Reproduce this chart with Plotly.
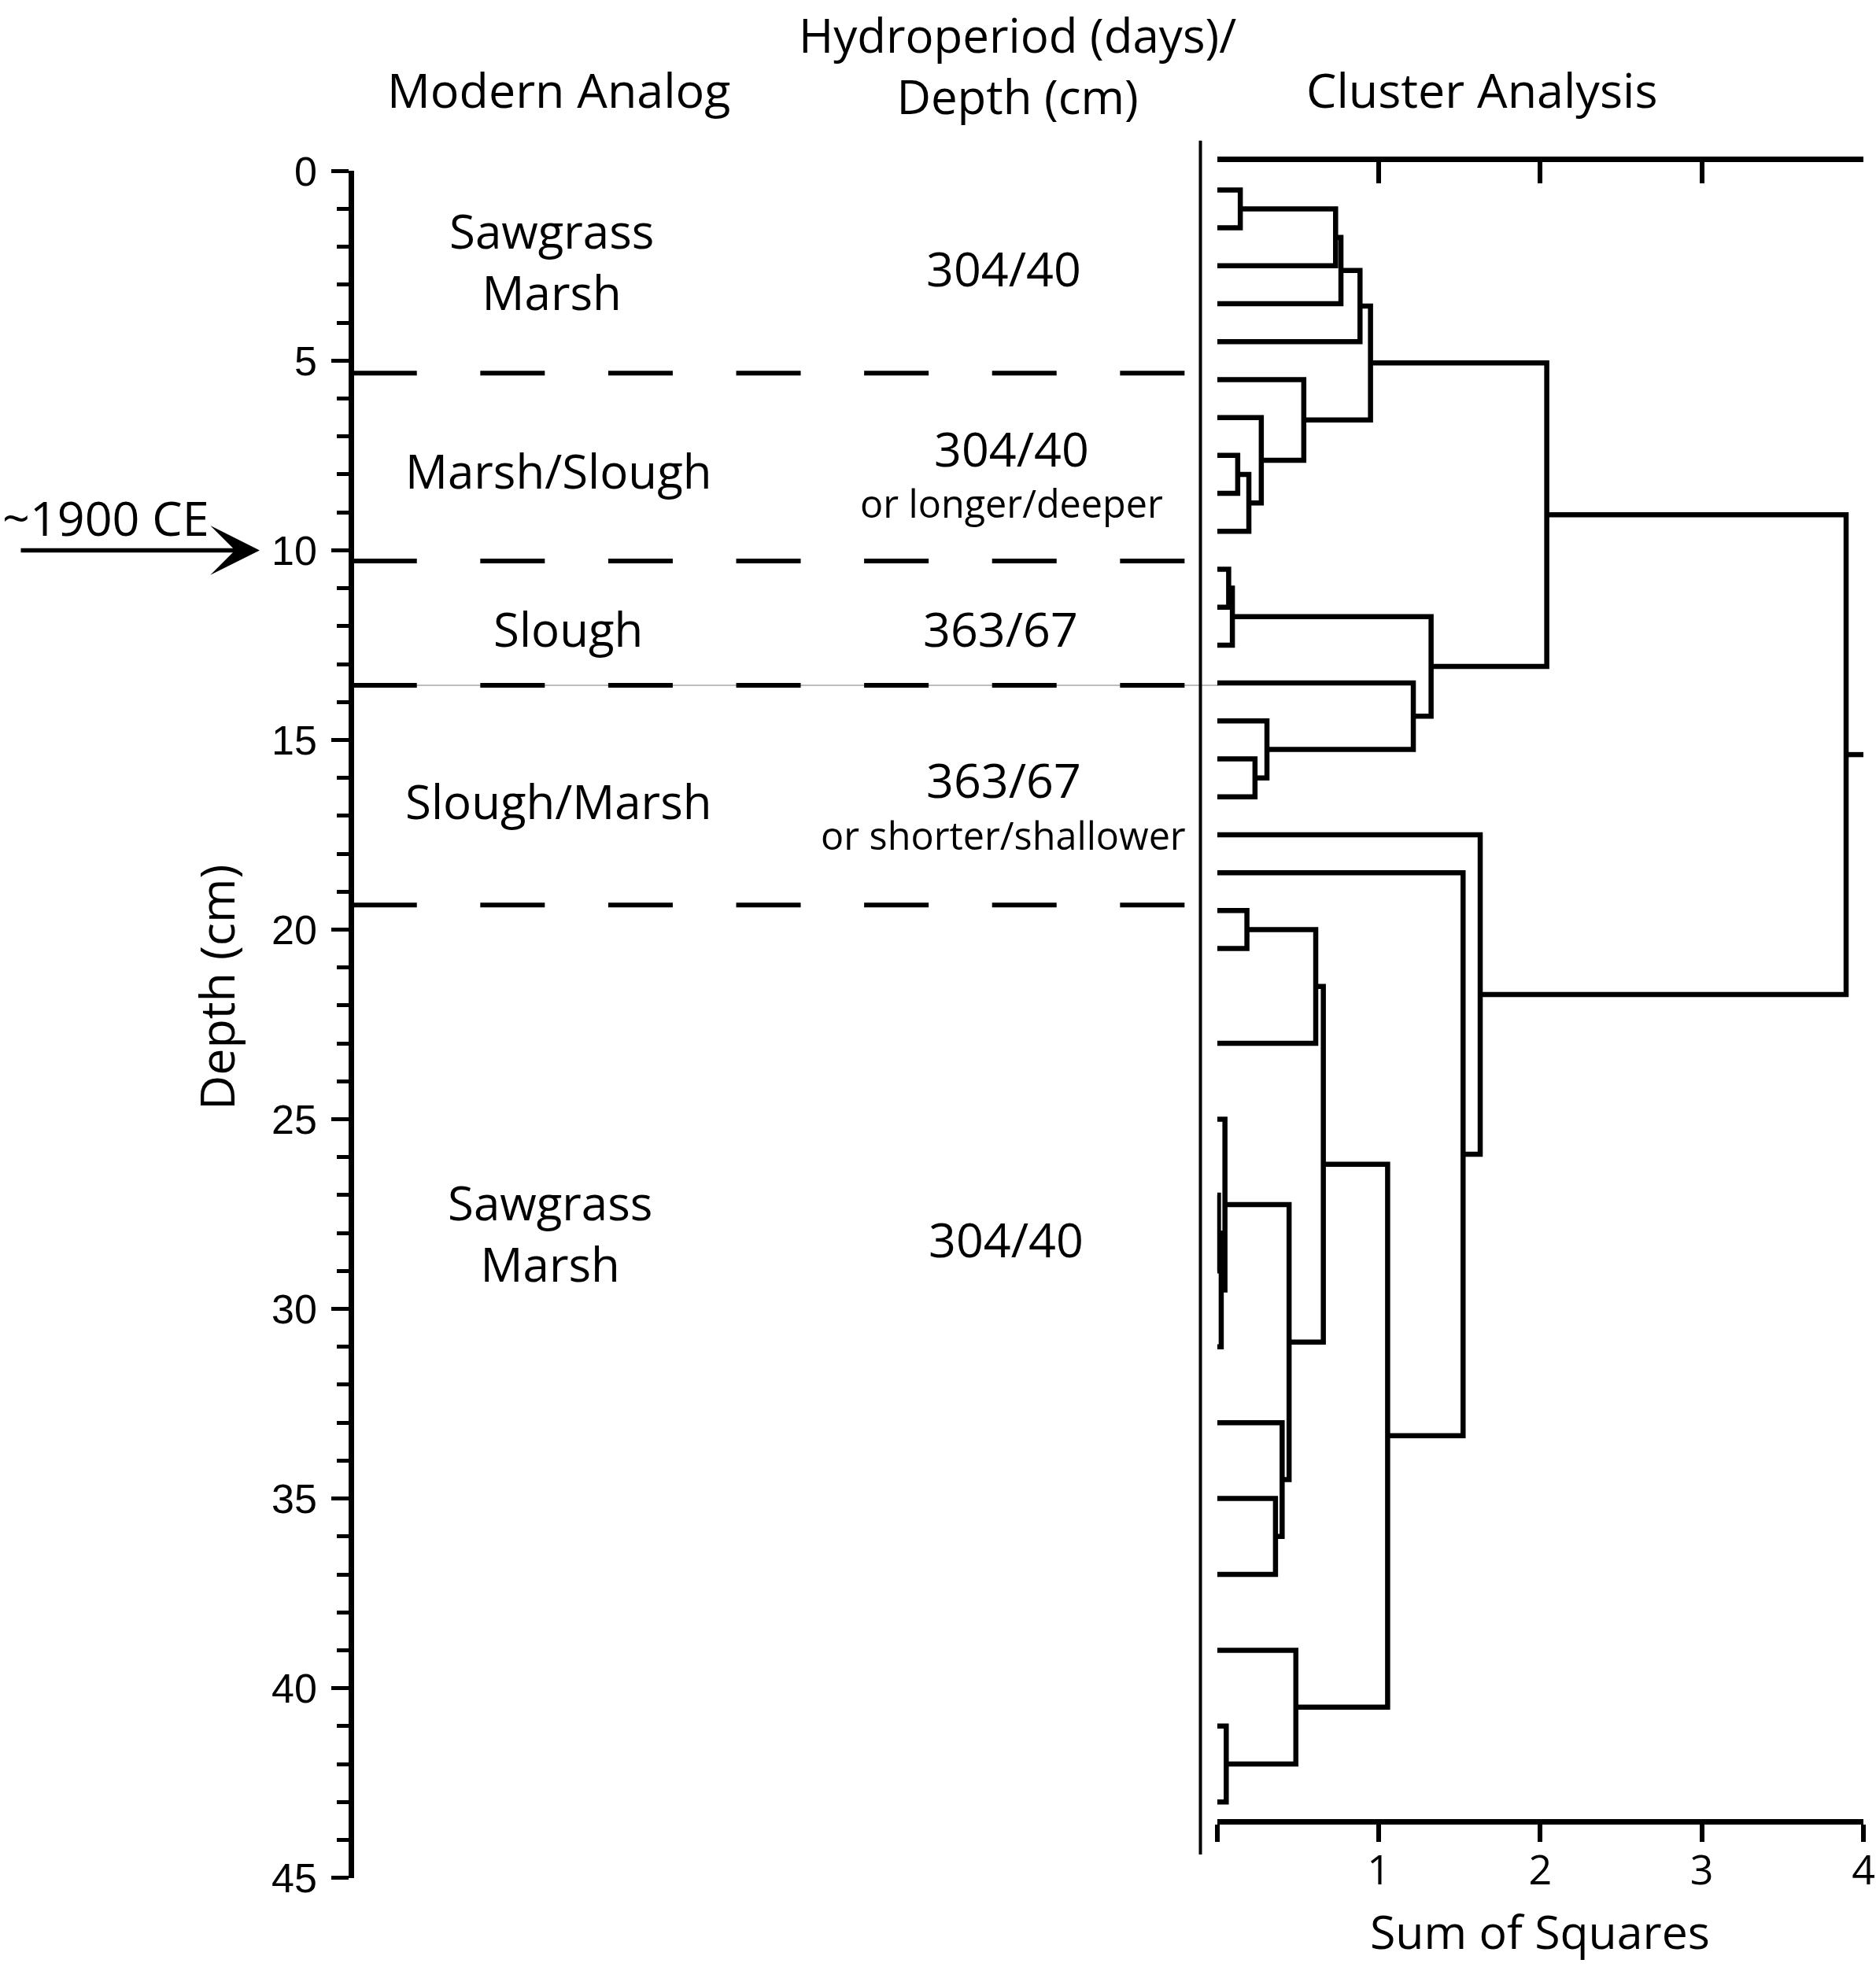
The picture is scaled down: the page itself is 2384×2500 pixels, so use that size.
import plotly.graph_objects as go

W, H = 2384, 2500

# ---------------- data ----------------
depth_ticks = [0, 5, 10, 15, 20, 25, 30, 35, 40, 45]
zone_boundaries = [5.33, 10.28, 13.56, 19.35]
gray_boundary = 13.56

analog_labels = ["Sawgrass<br>Marsh", "Marsh/Slough", "Slough", "Slough/Marsh", "Sawgrass<br>Marsh"]
analog_depths = [2.38, 7.9, 12.06, 16.6, 28.0]
analog_x = [0.236, 0.244, 0.256, 0.244, 0.234]

hydro_labels = ["304/40", "304/40", "363/67", "363/67", "304/40"]
hydro_depths = [2.55, 7.3, 12.06, 16.03, 28.16]
hydro_x = [0.768, 0.777, 0.764, 0.768, 0.771]

hydro_notes = ["or longer/deeper", "or shorter/shallower"]
hydro_note_depths = [8.75, 17.5]
hydro_note_x = [0.777, 0.768]

marker_label = "~1900 CE"
marker_depth = 10.0

# dendrogram leaves (sample depths, cm)
leaf_depths = [0.5, 1.5, 2.5, 3.5, 4.5, 5.5, 6.5, 7.5, 8.5, 9.5,
               10.5, 11.5, 12.5, 13.5, 14.5, 15.5, 16.5, 17.5, 18.5, 19.5,
               20.5, 23, 25, 27, 29, 31, 33, 35, 37, 39, 41, 43]
# merges: node ids >= len(leaf_depths) refer to earlier merges
merge_left = [0, 32, 33, 34, 7, 36, 6, 5, 35, 10, 41, 15, 14, 13, 42, 40,
              19, 48, 23, 50, 22, 27, 26, 52, 49, 30, 29, 56, 18, 17, 47]
merge_right = [1, 2, 3, 4, 8, 9, 37, 38, 39, 11, 12, 16, 43, 44, 45, 46,
               20, 21, 24, 25, 51, 28, 53, 54, 55, 31, 57, 58, 59, 60, 61]
merge_height = [0.143, 0.733, 0.766, 0.884, 0.127, 0.196, 0.273, 0.536, 0.949, 0.071,
                0.094, 0.234, 0.308, 1.214, 1.324, 2.04,
                0.184, 0.61, 0.008, 0.025, 0.048, 0.361, 0.402, 0.445, 0.657,
                0.056, 0.487, 1.055, 1.522, 1.628, 3.893]
ROOT_STUB = 0.13

ss_ticks = [0, 1, 2, 3, 4]
ss_ticktext = ["", "1", "2", "3", "4"]

# ---------------- layout helpers ----------------
def px_x(p):
    return p / W

def px_y(p):
    return 1 - p / H

FONT = "Open Sans"
BLACK = "black"

# dendrogram segments from linkage
node_y = list(leaf_depths)
node_h = [0.0] * len(leaf_depths)
dx, dy = [], []
for a, b, h in zip(merge_left, merge_right, merge_height):
    ya, yb = node_y[a], node_y[b]
    dx += [node_h[a], h, h, node_h[b], None]
    dy += [ya, ya, yb, yb, None]
    node_y.append((ya + yb) / 2)
    node_h.append(h)
dx += [node_h[-1], node_h[-1] + ROOT_STUB, None]
dy += [node_y[-1], node_y[-1], None]

fig = go.Figure()

# dashed zone boundaries (left panel)
for d in zone_boundaries:
    fig.add_trace(go.Scatter(x=[0.0016, 0.9811], y=[d, d], mode="lines",
                             line=dict(color=BLACK, width=6, dash="82px,80.6px"),
                             xaxis="x", yaxis="y", hoverinfo="skip"))

# dendrogram
fig.add_trace(go.Scatter(x=dx, y=dy, mode="lines",
                         line=dict(color=BLACK, width=6.5),
                         xaxis="x2", yaxis="y", hoverinfo="skip"))
# invisible trace for top axis
fig.add_trace(go.Scatter(x=[0], y=[0], mode="markers", marker=dict(opacity=0),
                         xaxis="x3", yaxis="y", hoverinfo="skip"))


def ann(text, x, y, xref, yref, size, **kw):
    d = dict(text=text, x=x, y=y, xref=xref, yref=yref, showarrow=False,
             font=dict(family=FONT, size=size, color=BLACK),
             xanchor="center", yanchor="middle")
    d.update(kw)
    return d


annotations = []
for t, d, x in zip(analog_labels, analog_depths, analog_x):
    annotations.append(ann(t, x, d, "x", "y", 60))
for t, d, x in zip(hydro_labels, hydro_depths, hydro_x):
    annotations.append(ann(t, x, d, "x", "y", 61))
for t, d, x in zip(hydro_notes, hydro_note_depths, hydro_note_x):
    annotations.append(ann(t, x, d, "x", "y", 48.5))

# headers and titles
annotations += [
    ann("Modern Analog", px_x(710), px_y(114), "paper", "paper", 61),
    ann("Hydroperiod (days)/<br>Depth (cm)", px_x(1293), px_y(83), "paper", "paper", 60),
    ann("Cluster Analysis", px_x(1883), px_y(114), "paper", "paper", 61),
    ann("Depth (cm)", px_x(274), px_y(1255), "paper", "paper", 61, textangle=-90),
    ann("Sum of Squares", 2, px_y(2454), "x2", "paper", 59),
    ann(marker_label, px_x(134), marker_depth, "paper", "y", 61, yshift=42),
    dict(text="", x=px_x(330), y=marker_depth, xref="paper", yref="y",
         showarrow=True, axref="pixel", ayref="pixel", ax=-305, ay=0,
         arrowhead=3, arrowsize=1.9, arrowwidth=5.5, arrowcolor=BLACK, standoff=0),
]

shapes = [
    # thin gray guide line
    dict(type="line", xref="paper", yref="y", x0=px_x(446), x1=px_x(1548),
         y0=gray_boundary, y1=gray_boundary, line=dict(color="#bdbdbd", width=2), layer="below"),
    # vertical separator
    dict(type="line", xref="paper", yref="paper", x0=px_x(1525.5), x1=px_x(1525.5),
         y0=px_y(178.7), y1=px_y(2357), line=dict(color=BLACK, width=4)),
]

fig.update_layout(
    width=W, height=H,
    margin=dict(l=0, r=0, t=0, b=0),
    paper_bgcolor="white", plot_bgcolor="rgba(0,0,0,0)",
    showlegend=False,
    template="none",
    annotations=annotations,
    shapes=shapes,
    xaxis=dict(domain=[px_x(446), px_x(1526)], range=[0, 1], visible=False,
               anchor="y", fixedrange=True),
    yaxis=dict(domain=[px_y(2386.7), px_y(217.3)], range=[45, 0], anchor="free",
               position=px_x(446), showline=True, linewidth=6.5, linecolor=BLACK,
               ticks="outside", ticklen=22, tickwidth=4.5, tickcolor=BLACK,
               tickvals=depth_ticks, showgrid=False, zeroline=False,
               tickfont=dict(family="Liberation Sans", size=52, color=BLACK),
               ticklabelstandoff=8,
               minor=dict(dtick=1, tick0=0, ticks="outside", ticklen=15, tickwidth=4.5,
                          tickcolor=BLACK, showgrid=False),
               automargin=False),
    xaxis2=dict(domain=[px_x(1546.8), px_x(2368)], range=[0, 4], anchor="free",
                position=px_y(2315), side="bottom", showline=True, linewidth=7,
                linecolor=BLACK, ticks="outside", ticklen=22, tickwidth=6,
                tickcolor=BLACK, tickvals=ss_ticks, ticktext=ss_ticktext,
                showgrid=False, zeroline=False, ticklabelstandoff=-8,
                tickfont=dict(family=FONT, size=52, color=BLACK),
                automargin=False),
    xaxis3=dict(domain=[px_x(1546.8), px_x(2368)], range=[0, 4], anchor="free",
                overlaying="x2", position=px_y(201.7), side="top", showline=True,
                linewidth=7, linecolor=BLACK, ticks="inside", ticklen=27,
                tickwidth=6, tickcolor=BLACK, tickvals=ss_ticks,
                showticklabels=False, showgrid=False, zeroline=False,
                automargin=False),
)

fig.write_html("out.html", config={"displayModeBar": False},
               post_script="document.body.style.margin='0';document.body.style.overflow='hidden';")
